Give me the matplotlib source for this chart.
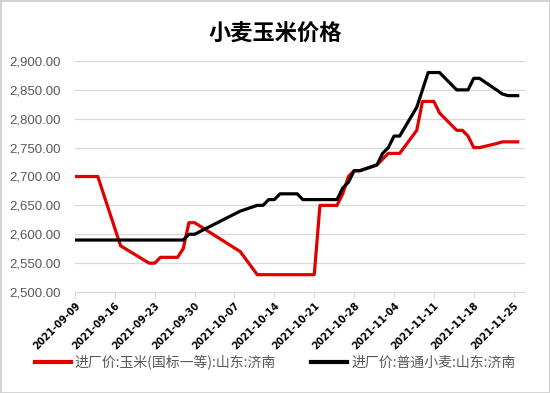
import matplotlib
matplotlib.use("Agg")
import matplotlib.pyplot as plt
from matplotlib.ticker import FuncFormatter, MultipleLocator
from matplotlib.patches import Rectangle
from matplotlib.lines import Line2D
import pandas as pd

plt.rcParams['font.family'] = ['Noto Sans CJK SC', 'DejaVu Sans']

dates = ["2021-09-09", "2021-09-10", "2021-09-13", "2021-09-14", "2021-09-15", "2021-09-16",
         "2021-09-17", "2021-09-22", "2021-09-23", "2021-09-24", "2021-09-27", "2021-09-28",
         "2021-09-29", "2021-09-30", "2021-10-08", "2021-10-11", "2021-10-12", "2021-10-13",
         "2021-10-14", "2021-10-15", "2021-10-18", "2021-10-19", "2021-10-20", "2021-10-21",
         "2021-10-22", "2021-10-25", "2021-10-26", "2021-10-27", "2021-10-28", "2021-10-29",
         "2021-11-01", "2021-11-02", "2021-11-03", "2021-11-04", "2021-11-05", "2021-11-08",
         "2021-11-09", "2021-11-10", "2021-11-11", "2021-11-12", "2021-11-15", "2021-11-16",
         "2021-11-17", "2021-11-18", "2021-11-19", "2021-11-22", "2021-11-23", "2021-11-24",
         "2021-11-25", "2021-11-26"]

corn = [2700, 2700, 2700, 2670, 2640, 2610,
        2580, 2550, 2550, 2560, 2560, 2575,
        2620, 2620, 2570, 2530, 2530, 2530,
        2530, 2530, 2530, 2530, 2530, 2530,
        2650, 2650, 2670, 2700, 2710, 2710,
        2720, 2730, 2740, 2740, 2740, 2780,
        2830, 2830, 2830, 2810, 2780, 2780,
        2770, 2750, 2750, 2757, 2760, 2760,
        2760, 2760]

wheat = [2590, 2590, 2590, 2590, 2590, 2590,
         2590, 2590, 2590, 2590, 2590, 2590,
         2600, 2600, 2640, 2650, 2650, 2660,
         2660, 2670, 2670, 2660, 2660, 2660,
         2660, 2660, 2680, 2690, 2710, 2710,
         2720, 2740, 2750, 2770, 2770, 2820,
         2850, 2880, 2880, 2880, 2850, 2850,
         2850, 2870, 2870, 2850, 2843, 2840,
         2840, 2840]

title = "小麦玉米价格"
corn_label = "进厂价:玉米(国标一等):山东:济南"
wheat_label = "进厂价:普通小麦:山东:济南"
tick_dates = ["2021-09-09", "2021-09-16", "2021-09-23", "2021-09-30", "2021-10-07", "2021-10-14",
              "2021-10-21", "2021-10-28", "2021-11-04", "2021-11-11", "2021-11-18", "2021-11-25"]

x = pd.to_datetime(dates)
ticks = pd.to_datetime(tick_dates)

fig = plt.figure(figsize=(5.5, 3.93), dpi=100)
ax = fig.add_axes([75/550, 1-292/393, 450/550, 231/393])

ax.plot(x, corn, color="#e00000", lw=2.3, solid_capstyle="butt", solid_joinstyle="round")
ax.plot(x, wheat, color="#000000", lw=2.3, solid_capstyle="butt", solid_joinstyle="round")

ax.set_ylim(2500, 2900)
ax.yaxis.set_major_locator(MultipleLocator(50))
ax.yaxis.set_major_formatter(FuncFormatter(lambda v, p: f"{v:,.2f}"))
ax.set_xlim(pd.Timestamp("2021-09-09"), pd.Timestamp("2021-11-27"))
ax.set_xticks(ticks)
ax.set_xticklabels(tick_dates, rotation=45, ha="right", rotation_mode="anchor",
                   fontsize=7, fontweight="bold", family="DejaVu Sans")
ax.grid(axis="y", color="#d9d9d9", lw=0.9)
ax.set_axisbelow(True)
for s in ["top", "right", "left"]:
    ax.spines[s].set_visible(False)
ax.spines["bottom"].set_color("#d9d9d9")
ax.tick_params(axis="y", length=0, labelsize=9.5, labelcolor="#595959", pad=10)
ax.tick_params(axis="x", length=4, color="#d9d9d9", pad=2)
for lab in ax.get_yticklabels():
    lab.set_family("Liberation Sans")

fig.text(0.5, 1-33/393, title, ha="center", va="center", fontsize=16, color="#000000",
         fontweight="bold")

h1 = Line2D([], [], color="#e00000", lw=3)
h2 = Line2D([], [], color="#000000", lw=3)
fig.legend([h1, h2], [corn_label, wheat_label], loc="center", bbox_to_anchor=(0.5, 1-362/393),
           ncol=2, frameon=False, fontsize=10, labelcolor="#595959", handlelength=2.6,
           columnspacing=2.5, handletextpad=0.3)

fig.patches.append(Rectangle((0, 0), 1, 1, transform=fig.transFigure, fill=False,
                             edgecolor="#d0d0d0", lw=2))

fig.savefig("out.png", dpi=100)
